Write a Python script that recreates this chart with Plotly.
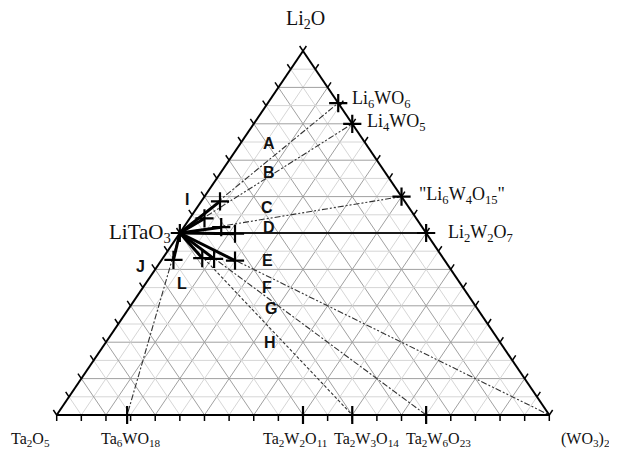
import plotly.graph_objects as go

# mole fractions of the three end members: Li2O (top), Ta2O5 (left), (WO3)2 (right)
phase_names = ["Li<sub>6</sub>WO<sub>6</sub>", "Li<sub>4</sub>WO<sub>5</sub>",
               "\"Li<sub>6</sub>W<sub>4</sub>O<sub>15</sub>\"", "Li<sub>2</sub>W<sub>2</sub>O<sub>7</sub>",
               "LiTaO<sub>3</sub>", "Ta<sub>6</sub>WO<sub>18</sub>", "Ta<sub>2</sub>W<sub>2</sub>O<sub>11</sub>",
               "Ta<sub>2</sub>W<sub>3</sub>O<sub>14</sub>", "Ta<sub>2</sub>W<sub>6</sub>O<sub>23</sub>"]
phase_li2o = [0.857, 0.8, 0.6, 0.5, 0.5, 0.0, 0.0, 0.0, 0.0]
phase_wo3 = [0.143, 0.2, 0.4, 0.5, 0.0, 0.143, 0.5, 0.6, 0.75]

corner_names = ["Li<sub>2</sub>O", "Ta<sub>2</sub>O<sub>5</sub>", "(WO<sub>3</sub>)<sub>2</sub>"]
corner_li2o = [1.0, 0.0, 0.0]
corner_wo3 = [0.0, 0.0, 1.0]

# tie lines from LiTaO3
tie_li2o = [0.857, 0.8, 0.6, 0.5, 0.0, 0.0, 0.0, 0.0]
tie_wo3 = [0.143, 0.2, 0.4, 0.5, 0.143, 0.6, 0.75, 1.0]

# sample compositions joined to LiTaO3 by bold lines
sample_li2o = [0.587, 0.540, 0.516, 0.498, 0.426, 0.431, 0.429, 0.424]
sample_wo3 = [0.038, 0.030, 0.076, 0.113, 0.024, 0.080, 0.105, 0.150]

region_labels = ["A", "B", "C", "D", "E", "F", "G", "H", "I", "J", "L"]

# pixel geometry of the triangle inside the page (page body has an 8px margin)
OFF = 8
W, H = 617, 457
X0, XB, YB, YT = 56.7 - OFF, 549.3 - OFF, 415.0 - OFF, 51.0 - OFF
SX, SY = XB - X0, YB - YT


def xy(a, c):
    return c + a / 2, a


def px(dx, dy):
    return dx / SX, dy / SY


fig = go.Figure()


def add_lines(segs, color, width, dash="solid"):
    xs, ys = [], []
    for (x1, y1), (x2, y2) in segs:
        xs += [x1, x2, None]
        ys += [y1, y2, None]
    fig.add_trace(go.Scatter(x=xs, y=ys, mode="lines", hoverinfo="skip",
                             line=dict(color=color, width=width, dash=dash)))


# grid, 5 % minor and 10 % major
for k in range(1, 20):
    f = k / 20
    segs = [(xy(f, 0), xy(f, 1 - f)),
            (xy(0, f), xy(1 - f, f)),
            (xy(0, 1 - f), xy(1 - f, 0))]
    if k % 2:
        add_lines(segs, "#d6d6d6", 1)
    else:
        add_lines(segs, "#a0a0a0", 1)

# tie lines
dashes = ["6px,2px,2px,2px", "6px,2px,2px,2px,2px,2px", "6px,2px,2px,2px,2px,2px", "solid",
          "6px,2px,2px,2px", "3px,2px", "6px,2px,2px,2px", "6px,2px,2px,2px,2px,2px"]
start = xy(phase_li2o[4], phase_wo3[4])
for a, c, d in zip(tie_li2o, tie_wo3, dashes):
    if d == "solid":
        add_lines([(start, xy(a, c))], "#1a1a1a", 1.8)
    else:
        add_lines([(start, xy(a, c))], "#333333", 1.1, d)

# bold sample lines
add_lines([(start, xy(a, c)) for a, c in zip(sample_li2o, sample_wo3)], "black", 3)

# triangle frame
corners = [xy(a, c) for a, c in zip(corner_li2o, corner_wo3)]
add_lines([(corners[0], corners[1]), (corners[1], corners[2]), (corners[2], corners[0])], "black", 2)

# axis ticks
L = 6
ticks = []
for k in range(21):
    f = k / 20
    bx, by = xy(0, f)
    ticks.append(((bx, by), (bx, by - px(0, L)[1])))
    lx, ly = xy(f, 0)
    ticks.append(((lx, ly), (lx - px(0.56 * L, 0)[0], ly + px(0, 0.83 * L)[1])))
    rx, ry = xy(1 - f, f)
    ticks.append(((rx, ry), (rx + px(0.56 * L, 0)[0], ry + px(0, 0.83 * L)[1])))
add_lines(ticks, "black", 1.5)

# phase and sample markers
pts_x = [xy(a, c)[0] for a, c in zip(phase_li2o + sample_li2o, phase_wo3 + sample_wo3)]
pts_y = [xy(a, c)[1] for a, c in zip(phase_li2o + sample_li2o, phase_wo3 + sample_wo3)]
fig.add_trace(go.Scatter(x=pts_x, y=pts_y, mode="markers", hoverinfo="skip",
                         marker=dict(symbol="cross-thin", size=13,
                                     line=dict(color="black", width=2.2))))


def serif(size):
    return dict(family="Liberation Serif", size=size, color="#111111")


# phase labels: (xanchor, xshift, yshift, font size)
phase_pos = [("left", 12, 4, 18), ("left", 13, 1, 18), ("left", 15, 1, 18), ("left", 20, 0, 18),
             ("right", -7, 0, 21), ("center", 4, -24, 16), ("center", -8, -24, 16),
             ("center", 14, -24, 16), ("center", 12, -24, 16)]
for name, a, c, (anc, xs, ys, fs) in zip(phase_names, phase_li2o, phase_wo3, phase_pos):
    x, y = xy(a, c)
    fig.add_annotation(x=x, y=y, text=name, showarrow=False, font=serif(fs),
                       xanchor=anc, yanchor="middle", xshift=xs, yshift=ys)

corner_pos = [(2, 32, 20), (-26, -24, 16), (36, -24, 16)]
for name, a, c, (xs, ys, fs) in zip(corner_names, corner_li2o, corner_wo3, corner_pos):
    x, y = xy(a, c)
    fig.add_annotation(x=x, y=y, text=name, showarrow=False, font=serif(fs),
                       xanchor="center", yanchor="middle", xshift=xs, yshift=ys)

# region letters, placed in reference pixels
letter_px = [(269, 143), (269, 172), (267, 207), (269, 227), (267, 260), (267, 287),
             (271, 308), (270, 342), (187, 199), (140, 266), (182, 283)]
for t, (lx, ly) in zip(region_labels, letter_px):
    fig.add_annotation(x=(lx - OFF - X0) / SX, y=(YB - ly + OFF) / SY, text="<b>%s</b>" % t,
                       showarrow=False,
                       font=dict(family="Liberation Sans", size=16, color="#111111"),
                       xanchor="center", yanchor="middle")

fig.update_layout(
    width=W, height=H, showlegend=False,
    margin=dict(l=0, r=0, t=0, b=0),
    paper_bgcolor="white", plot_bgcolor="white",
    xaxis=dict(range=[-X0 / SX, (W - X0) / SX], visible=False, fixedrange=True),
    yaxis=dict(range=[(YB - H) / SY, YB / SY], visible=False, fixedrange=True),
)

fig.write_html("out.html")
